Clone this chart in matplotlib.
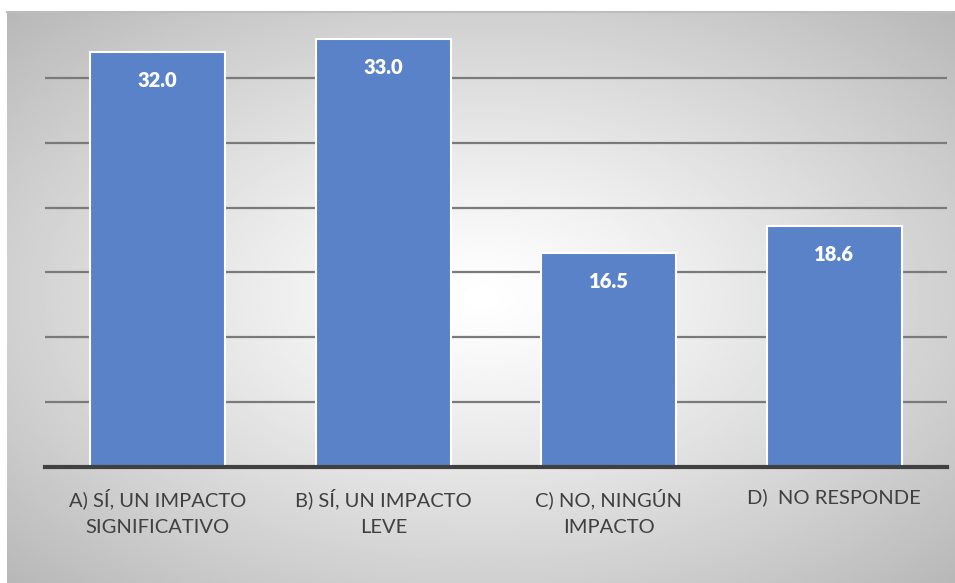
import matplotlib.pyplot as plt
import numpy as np

# Datos
categorias = ["A) SÍ, UN IMPACTO\nSIGNIFICATIVO", "B) SÍ, UN IMPACTO\nLEVE",
              "C) NO, NINGÚN\nIMPACTO", "D)  NO RESPONDE"]
valores = [32.0, 33.0, 16.5, 18.6]
etiquetas = ["32.0", "33.0", "16.5", "18.6"]

plt.rcParams['font.family'] = ['Lato', 'DejaVu Sans']

fig = plt.figure(figsize=(9.55, 5.83), dpi=100)

# Fondo con degradado radial (blanco al centro, gris en los bordes)
bg = fig.add_axes([7 / 955, 0, 1 - 7 / 955, 1 - 12 / 583])
yy, xx = np.mgrid[-1:1:300j, -1:1:500j]
r = np.sqrt(xx ** 2 + yy ** 2) / np.sqrt(2)
gris = 1.0 - 0.28 * np.clip(r, 0, 1) ** 1.2
bg.imshow(gris, cmap="gray", vmin=0, vmax=1, aspect="auto", extent=(0, 1, 0, 1))
bg.set_axis_off()
bg.plot([0, 1], [1, 1], color="#bdbdbd", lw=1.5, transform=bg.transAxes, clip_on=False)

# Area del grafico
ax = fig.add_axes([45 / 955, 1 - 467 / 583, 902 / 955, 454 / 583])
ax.set_facecolor("none")
x = np.arange(len(valores))
ax.bar(x, valores, width=0.6, color="#5a82c8", edgecolor="white", linewidth=1.5, zorder=3)

for xi, v, t in zip(x, valores, etiquetas):
    ax.text(xi, v - 1.5, t, ha="center", va="top", color="white",
            fontsize=14.5, fontweight="heavy", zorder=4)

ax.set_xlim(-0.5, 3.5)
ax.set_ylim(0, 35)
ax.set_yticks(np.arange(5, 35, 5))
ax.yaxis.grid(True, color="#7a7a7a", linewidth=1.6, zorder=0)
ax.tick_params(axis="y", length=0, labelleft=False)
ax.tick_params(axis="x", length=0, pad=15)
ax.set_xticks(x)
ax.set_xticklabels(categorias, fontsize=14.5, color="#404040", linespacing=1.75)
for s in ["top", "right", "left"]:
    ax.spines[s].set_visible(False)
ax.spines["bottom"].set_color("#404040")
ax.spines["bottom"].set_linewidth(3)
ax.spines["bottom"].set_zorder(5)

fig.savefig("out.png", dpi=100)
